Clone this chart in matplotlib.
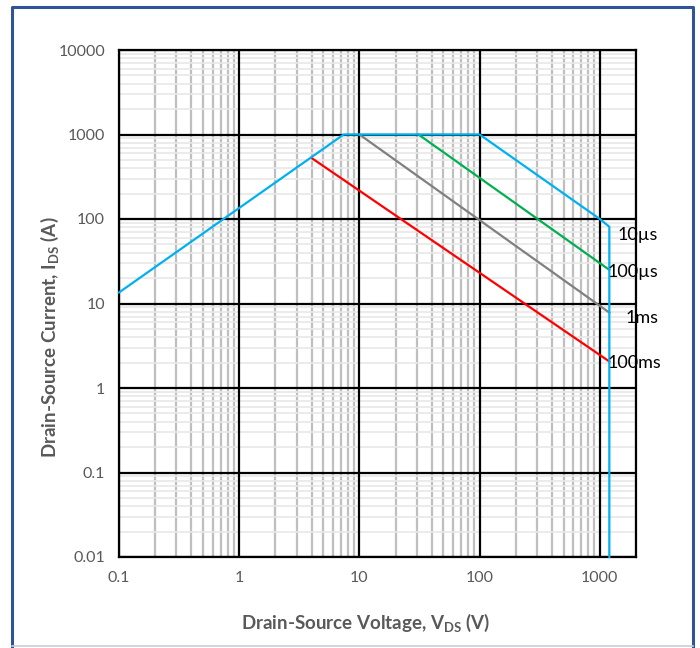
import matplotlib
matplotlib.use("Agg")
import matplotlib.pyplot as plt
from matplotlib.lines import Line2D
from matplotlib.ticker import LogLocator, FixedLocator, NullFormatter

plt.rcParams['font.family'] = ['Lato', 'DejaVu Sans']

# SOA boundary (10 µs)
soa_v = [0.1, 7.4, 100, 1000, 1200, 1200]
soa_i = [13.5, 1000, 1000, 100, 81, 0.01]
# pulse-width limit lines
us100_v = [31, 1200]
us100_i = [1000, 25]
ms1_v = [10, 1200]
ms1_i = [1000, 7.8]
ms100_v = [4, 1200]
ms100_i = [527, 2.06]

labels = ["10µs", "100µs", "1ms", "100ms"]
label_pos_v = [1413, 1166, 1648, 1166]
label_pos_i = [65, 23.9, 6.65, 2.0]

x_ticks = [0.1, 1, 10, 100, 1000]
x_ticklabels = ["0.1", "1", "10", "100", "1000"]
y_ticks = [0.01, 0.1, 1, 10, 100, 1000, 10000]
y_ticklabels = ["0.01", "0.1", "1", "10", "100", "1000", "10000"]

fig = plt.figure(figsize=(7.0, 6.48), dpi=100)
ax = fig.add_axes([119/700, 1-557/648, (636-119)/700, (557-50)/648])

ax.set_xscale('log')
ax.set_yscale('log')
ax.set_xlim(0.1, 2000)
ax.set_ylim(0.01, 10000)

# minor grids
ax.xaxis.set_minor_locator(LogLocator(base=10, subs=range(2, 10), numticks=20))
ax.yaxis.set_minor_locator(LogLocator(base=10, subs=range(2, 10), numticks=20))
ax.xaxis.set_minor_formatter(NullFormatter())
ax.yaxis.set_minor_formatter(NullFormatter())
ax.grid(which='minor', axis='y', color='#E8E8E8', linewidth=1.2)
ax.grid(which='minor', axis='x', color='#BFBFBF', linewidth=1.6)
ax.set_axisbelow(True)

ax.xaxis.set_major_locator(FixedLocator(x_ticks))
ax.set_xticklabels(x_ticklabels)
ax.yaxis.set_major_locator(FixedLocator(y_ticks))
ax.set_yticklabels(y_ticklabels)
ax.tick_params(which='both', length=0, colors='#595959', labelsize=11.5)
ax.tick_params(axis='x', pad=10)
ax.tick_params(axis='y', pad=10)

# major grid drawn above minor grid
for xv in x_ticks:
    ax.axvline(xv, color='black', linewidth=1.6, zorder=1.5)
for yv in y_ticks:
    ax.axhline(yv, color='black', linewidth=1.6, zorder=1.5)

for s in ax.spines.values():
    s.set_color('black')
    s.set_linewidth(1.6)

ax.plot(ms100_v, ms100_i, color='#FF0000', linewidth=1.6, clip_on=False, zorder=3)
ax.plot(ms1_v, ms1_i, color='#808080', linewidth=1.6, clip_on=False, zorder=3)
ax.plot(us100_v, us100_i, color='#00B050', linewidth=1.6, clip_on=False, zorder=3)
ax.plot(soa_v, soa_i, color='#00B0F0', linewidth=1.6, clip_on=False, zorder=3)

for t, v, i in zip(labels, label_pos_v, label_pos_i):
    ax.text(v, i, t, ha='left', va='center', fontsize=13, color='black', zorder=4)

ax.set_xlabel("Drain-Source Voltage, V$_{\\mathregular{DS}}$ (V)", fontsize=13.5,
              fontweight='bold', color='#595959')
ax.set_ylabel("Drain-Source Current, I$_{\\mathregular{DS}}$ (A)", fontsize=13.5,
              fontweight='bold', color='#595959')
ax.xaxis.set_label_coords(0.478, -0.1065)
ax.yaxis.set_label_coords(-0.112, 0.434)

# outer frame
tf = fig.transFigure
L, R, T, B = 11.5/700, 692.5/700, 1-7/648, 1-646/648
fig.lines.append(Line2D([L, L, R, R], [B, T, T, B], transform=tf, color='#2F5597', linewidth=2.2))
fig.lines.append(Line2D([L, R], [B, B], transform=tf, color='#C9CED6', linewidth=1.2))

fig.savefig("out.png", dpi=100)
